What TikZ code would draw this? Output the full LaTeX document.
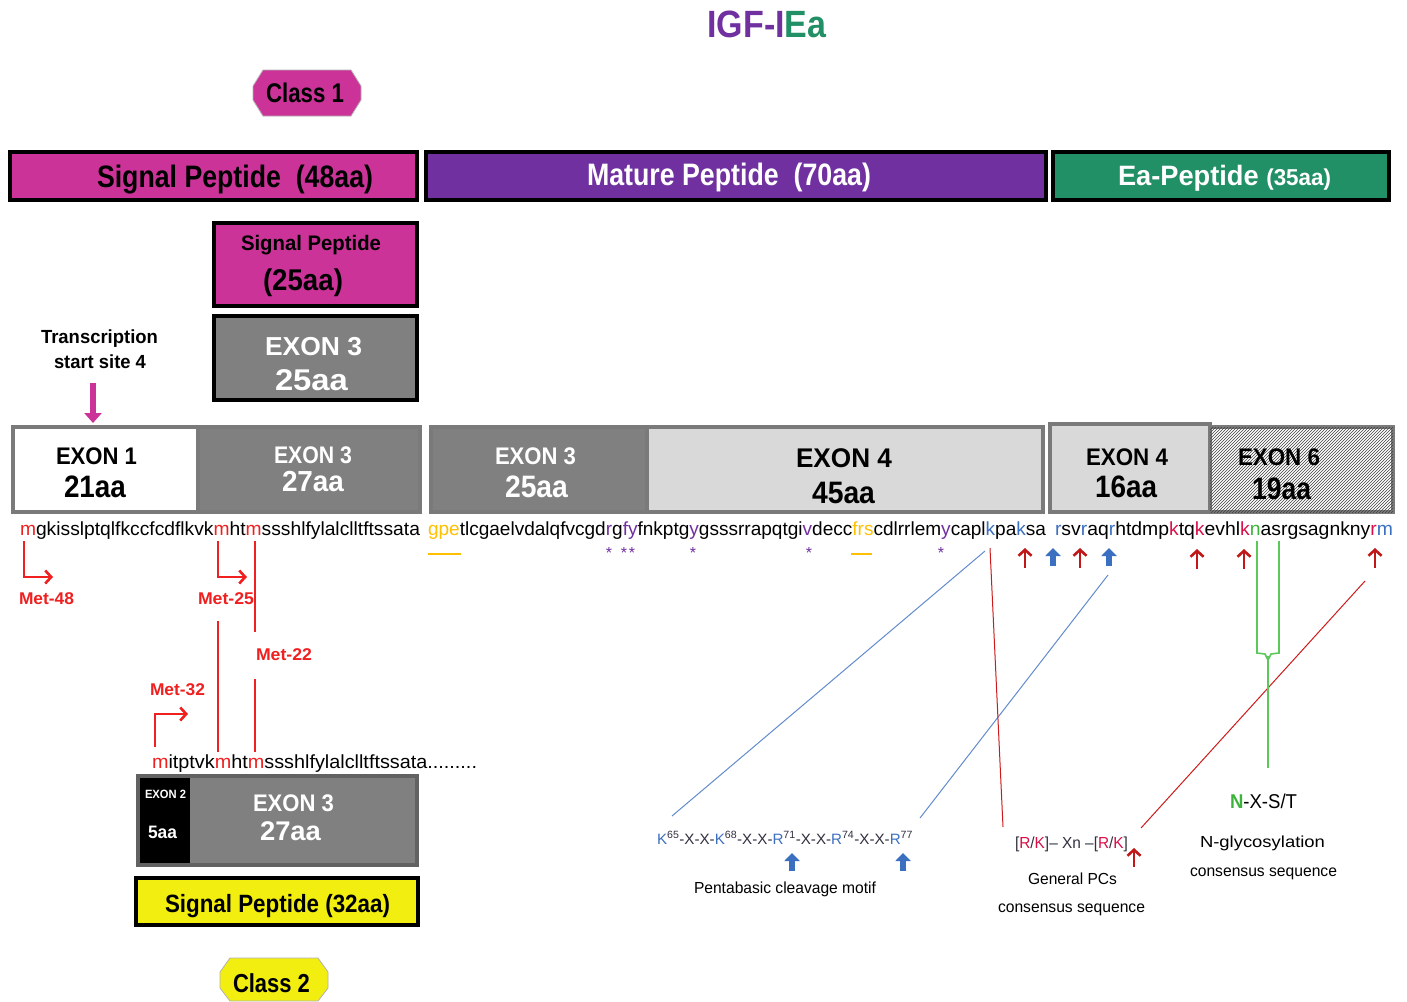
\documentclass[tikz,border=0pt]{standalone}
\usepackage{fontspec}
\setmainfont{Liberation Sans}
\usepackage{graphicx}
\usetikzlibrary{arrows.meta,patterns}
\definecolor{cmag}{HTML}{CC3399}
\definecolor{cpur}{HTML}{7030A0}
\definecolor{cgrn}{HTML}{229067}
\definecolor{cgray}{HTML}{808080}
\definecolor{cbord}{HTML}{7A7A7A}
\definecolor{clight}{HTML}{D9D9D9}
\definecolor{cyel}{HTML}{F2EE10}
\definecolor{corg}{HTML}{FFC000}
\definecolor{cblu}{HTML}{3B6FC0}
\definecolor{cred}{HTML}{F02020}
\definecolor{cdred}{HTML}{C01818}
\definecolor{ckred}{HTML}{D8104A}
\definecolor{cngrn}{HTML}{3CB43C}
\definecolor{cxgrn}{HTML}{5CC85C}
\definecolor{cdark}{HTML}{303040}
\newsavebox\fitbx
\newcommand\fitw[2]{\sbox\fitbx{#2}\pgfmathsetmacro\fitsc{#1/\the\wd\fitbx}\scalebox{\fitsc}[1]{\usebox\fitbx}}
\newcommand\fsz[1]{\fontsize{#1}{#1}\selectfont}
\newcommand\xred[1]{\textcolor{cred}{#1}}
\newcommand\xpur[1]{\textcolor{cpur}{#1}}
\newcommand\xblu[1]{\textcolor{cblu}{#1}}
\newcommand\xorg[1]{\textcolor{corg}{#1}}
\newcommand\xgrn[1]{\textcolor{cngrn}{#1}}
\newcommand\xkrd[1]{\textcolor{ckred}{#1}}
\tikzset{
  lbl/.style={inner sep=0pt, outer sep=0pt, anchor=base},
  bx/.style={draw=black, line width=4pt, inner sep=0pt},
  ex/.style={draw=cbord, line width=3.5pt, inner sep=0pt},
  redup/.style={draw=cdred, line width=2.6pt, -{Straight Barb[length=6pt,width=13pt]}},
  bluup/.style={draw=cblu, line width=5.5pt, -{Triangle[length=8pt,width=15pt]}},
  metar/.style={draw=cred, line width=2.6pt, -{Straight Barb[length=6pt,width=13pt]}},
  redln/.style={draw=cred, line width=2pt},
  thinblu/.style={draw=cblu!80, line width=1pt},
  thinred/.style={draw=cred!85!black, line width=1pt},
  grnln/.style={draw=cxgrn, line width=1.6pt},
  star/.style={lbl, text=cpur},
}
\begin{document}
\begin{tikzpicture}[x=1pt,y=-1pt]
\useasboundingbox (0,0) rectangle (1407,1001);
\fill[white] (0,0) rectangle (1407,1001);
% title
\node[lbl] (title) at (767,37) {\fsz{38}\bfseries\fitw{119}{\textcolor{cpur}{IGF-I}\textcolor{cgrn}{Ea}}};
% class 1
\draw[fill=cmag, draw=gray!60, line width=0.8pt] (263,70)--(351,70)--(361,86)--(361,100)--(351,116)--(263,116)--(253,100)--(253,86)--cycle;
\node[lbl] (class1) at (305,102) {\fsz{27}\bfseries\fitw{78}{Class 1}};
% top bars
\node[bx, fill=cmag, minimum width=407pt, minimum height=48pt] (sp48) at (213.5,176) {};
\node[lbl] (sp48t) at (235,187) {\fsz{31}\bfseries\fitw{276}{Signal Peptide\ \ (48aa)}};
\node[bx, fill=cpur, minimum width=620pt, minimum height=48pt] (mat) at (736,176) {};
\node[lbl, text=white] (matt) at (729,185) {\fsz{31}\bfseries\fitw{284}{Mature Peptide\ \ (70aa)}};
\node[bx, fill=cgrn, minimum width=336pt, minimum height=48pt] (ea) at (1221,176) {};
\node[lbl, text=white] (eat) at (1224.5,185) {\fsz{28}\bfseries\fitw{213}{Ea-Peptide\ {\fsz{23}(35aa)}}};
% signal peptide 25aa & exon3 25aa
\node[bx, fill=cmag, minimum width=203pt, minimum height=83pt] (sp25) at (315.5,264.5) {};
\node[lbl] (sp25a) at (311,250) {\fsz{21}\bfseries\fitw{140}{Signal Peptide}};
\node[lbl] (sp25b) at (303,290) {\fsz{30}\bfseries\fitw{80}{(25aa)}};
\node[bx, fill=cgray, minimum width=203pt, minimum height=84pt] (e325) at (315.5,358) {};
\node[lbl, text=white] (e325a) at (313.5,355) {\fsz{26}\bfseries\fitw{97}{EXON 3}};
\node[lbl, text=white] (e325b) at (311.5,390) {\fsz{30}\bfseries\fitw{73}{25aa}};
% transcription start site
\node[lbl] (tss1) at (99.5,343) {\fsz{19}\bfseries\fitw{117}{Transcription}};
\node[lbl] (tss2) at (100,368) {\fsz{19}\bfseries\fitw{92}{start site 4}};
\coordinate (tssa) at (93,383);
\coordinate (tssb) at (93,423);
\draw[draw=cmag, line width=6pt, -{Triangle[length=10pt,width=17pt]}] (tssa) -- (tssb);
% exon row
\node[ex, fill=white, minimum width=185pt, minimum height=85pt] (ex1) at (105.5,469.5) {};
\node[ex, fill=cgray, minimum width=222pt, minimum height=85pt] (ex3a) at (309,469.5) {};
\node[ex, fill=cgray, minimum width=216pt, minimum height=85pt] (ex3b) at (539,469.5) {};
\node[ex, fill=clight, minimum width=396pt, minimum height=85pt] (ex4a) at (845,469.5) {};
\node[ex, fill=clight, minimum width=160pt, minimum height=88pt] (ex4b) at (1130,468) {};
\node[ex, fill=white, minimum width=183pt, minimum height=85pt] (ex6) at (1301.5,469.5) {};
\fill[pattern=north east lines, pattern color=black!75] ([xshift=1.75pt,yshift=-1.75pt]ex6.north west) rectangle ([xshift=-1.75pt,yshift=1.75pt]ex6.south east);
\node[lbl] (ex1a) at (96.5,464) {\fsz{24}\bfseries\fitw{81}{EXON 1}};
\node[lbl] (ex1b) at (95,497) {\fsz{31}\bfseries\fitw{62}{21aa}};
\node[lbl, text=white] (ex3aa) at (313,463) {\fsz{24}\bfseries\fitw{78}{EXON 3}};
\node[lbl, text=white] (ex3ab) at (313,491) {\fsz{29}\bfseries\fitw{62}{27aa}};
\node[lbl, text=white] (ex3ba) at (535.5,464) {\fsz{24}\bfseries\fitw{81}{EXON 3}};
\node[lbl, text=white] (ex3bb) at (536.5,497) {\fsz{31}\bfseries\fitw{63}{25aa}};
\node[lbl] (ex4aa) at (844,467) {\fsz{27}\bfseries\fitw{96}{EXON 4}};
\node[lbl] (ex4ab) at (843.5,503) {\fsz{31}\bfseries\fitw{63}{45aa}};
\node[lbl] (ex4ba) at (1127,465) {\fsz{24}\bfseries\fitw{82}{EXON 4}};
\node[lbl] (ex4bb) at (1126,497) {\fsz{31}\bfseries\fitw{62}{16aa}};
\node[lbl] (ex6a) at (1279,465) {\fsz{24}\bfseries\fitw{82}{EXON 6}};
\node[lbl] (ex6b) at (1281.5,499) {\fsz{31}\bfseries\fitw{59}{19aa}};
% sequences
\node[lbl, anchor=base west] (seq1) at (20,535) {\fsz{19}\fitw{400}{\xred{m}gkisslptqlfkccfcdflkvk\xred{m}ht\xred{m}ssshlfylalclltftssata}};
\node[lbl, anchor=base west] (seq2) at (428,535) {\fsz{19}\fitw{618}{\xorg{gpe}tlcgaelvdalqfvcgd\xpur{r}g\xpur{fy}fnkptg\xpur{y}gsssrrapqtgi\xpur{v}decc\xorg{frs}cdlrrlem\xpur{y}capl\xblu{k}pa\xblu{k}sa}};
\node[lbl, anchor=base west] (seq3) at (1055,535) {\fsz{19}\fitw{338}{\xblu{r}sv\xblu{r}aq\xblu{r}htdmp\xkrd{k}tq\xkrd{k}evhl\xkrd{k}\xgrn{n}asrgsagnkny\xkrd{r}\xblu{m}}};
\node[lbl, anchor=base west] (seq4) at (152,768) {\fsz{19}\fitw{325}{\xred{m}itptvk\xred{m}ht\xred{m}ssshlfylalclltftssata.........}};
% underlines and stars
\draw[draw=corg, line width=2.5pt] (428,554) -- (461,554);
\draw[draw=corg, line width=2.5pt] (851,554) -- (872,554);
\node[star] (s1) at (609,558) {\fsz{16}*};
\node[star] (s2) at (624,558) {\fsz{16}*};
\node[star] (s3) at (632,558) {\fsz{16}*};
\node[star] (s4) at (693,558) {\fsz{16}*};
\node[star] (s5) at (809,558) {\fsz{16}*};
\node[star] (s6) at (941,558) {\fsz{16}*};
% Met arrows
\draw[metar] (24,541) -- (24,577) -- (53,577);
\draw[metar] (218,541) -- (218,577) -- (247,577);
\draw[metar] (155,747) -- (155,714) -- (188,714);
\draw[redln] (255,541) -- (255,632);
\draw[redln] (255,679) -- (255,752);
\draw[redln] (218,621) -- (218,752);
\node[lbl, text=cred] (m48) at (46.5,604) {\fsz{17}\bfseries\fitw{55}{Met-48}};
\node[lbl, text=cred] (m25) at (226,604) {\fsz{17}\bfseries\fitw{56}{Met-25}};
\node[lbl, text=cred] (m22) at (284,660) {\fsz{17}\bfseries\fitw{56}{Met-22}};
\node[lbl, text=cred] (m32) at (177.5,695) {\fsz{17}\bfseries\fitw{55}{Met-32}};
% bottom exon box
\node[ex, draw=cbord!80!black, fill=cgray, minimum width=279pt, minimum height=89pt] (bex) at (277.5,820.5) {};
\fill[black] (139.75,777.75) rectangle (190,863.25);
\node[lbl, text=white] (bex2a) at (165.5,798) {\fsz{12}\bfseries\fitw{41}{EXON 2}};
\node[lbl, text=white] (bex2b) at (162.5,838) {\fsz{18}\bfseries\fitw{29}{5aa}};
\node[lbl, text=white] (bex3a) at (293.5,811) {\fsz{24}\bfseries\fitw{81}{EXON 3}};
\node[lbl, text=white] (bex3b) at (290.5,840) {\fsz{27}\bfseries\fitw{61}{27aa}};
\node[bx, fill=cyel, minimum width=282pt, minimum height=47pt] (sp32) at (277,901.5) {};
\node[lbl] (sp32t) at (277.5,912) {\fsz{25}\bfseries\fitw{225}{Signal Peptide (32aa)}};
\draw[fill=cyel, draw=gray!60, line width=0.8pt] (230,958)--(318,958)--(328,972)--(328,988)--(318,1001)--(230,1001)--(220,988)--(220,972)--cycle;
\node[lbl] (class2) at (271.5,992) {\fsz{26}\bfseries\fitw{77}{Class 2}};
% cleavage arrows near sequence
\draw[redup] (1025,568) -- (1025,548);
\draw[redup] (1080,568) -- (1080,548);
\draw[redup] (1197,569) -- (1197,549);
\draw[redup] (1244,569) -- (1244,549);
\draw[redup] (1375,568) -- (1375,548);
\draw[bluup] (1053,566) -- (1053,548);
\draw[bluup] (1109,566) -- (1109,548);
% pentabasic motif
\node[lbl] (penta) at (785,844) {\fsz{15}\fitw{256}{\color{cdark}\xblu{K}\textsuperscript{65}-X-X-\xblu{K}\textsuperscript{68}-X-X-\xblu{R}\textsuperscript{71}-X-X-\xblu{R}\textsuperscript{74}-X-X-\xblu{R}\textsuperscript{77}}};
\draw[bluup] (792,871) -- (792,853);
\draw[bluup] (903,871) -- (903,853);
\node[lbl] (pentat) at (785,893) {\fsz{16}\fitw{182}{Pentabasic cleavage motif}};
% general PCs
\node[lbl] (pcs) at (1071.5,848) {\fsz{16}\fitw{113}{\color{cdark}[\xkrd{R}/\xkrd{K}]-- Xn --[\xkrd{R}/\xkrd{K}]}};
\draw[redup] (1134,867) -- (1134,848);
\node[lbl] (pcs1) at (1072.5,884) {\fsz{16}\fitw{89}{General PCs}};
\node[lbl] (pcs2) at (1071.5,912) {\fsz{16}\fitw{147}{consensus sequence}};
% N-glycosylation
\node[lbl] (nxst) at (1263.5,808) {\fsz{20}\fitw{67}{\xgrn{\bfseries N}-X-S/T}};
\node[lbl] (ng1) at (1262.5,847) {\fsz{16}\fitw{125}{N-glycosylation}};
\node[lbl] (ng2) at (1263.5,876) {\fsz{16}\fitw{147}{consensus sequence}};
% connector lines
\coordinate (bl1a) at (985,551); \coordinate (bl1b) at (672,816);
\coordinate (bl2a) at (1108,575); \coordinate (bl2b) at (920,818);
\coordinate (rd1a) at (990,548); \coordinate (rd1b) at (1003,827);
\coordinate (rd2a) at (1365,581); \coordinate (rd2b) at (1141,828);
\draw[thinblu] (bl1a) -- (bl1b);
\draw[thinblu] (bl2a) -- (bl2b);
\draw[thinred] (rd1a) -- (rd1b);
\draw[thinred] (rd2a) -- (rd2b);
\coordinate (g1) at (1257,541); \coordinate (g2) at (1279,541); \coordinate (g3) at (1268,768);
\draw[grnln] (g1) -- (1257,653) -- (1265,654) -- (1268,660);
\draw[grnln] (g2) -- (1279,653) -- (1271,654) -- (1268,660);
\draw[grnln] (1268,656) -- (g3);
\end{tikzpicture}
\end{document}
